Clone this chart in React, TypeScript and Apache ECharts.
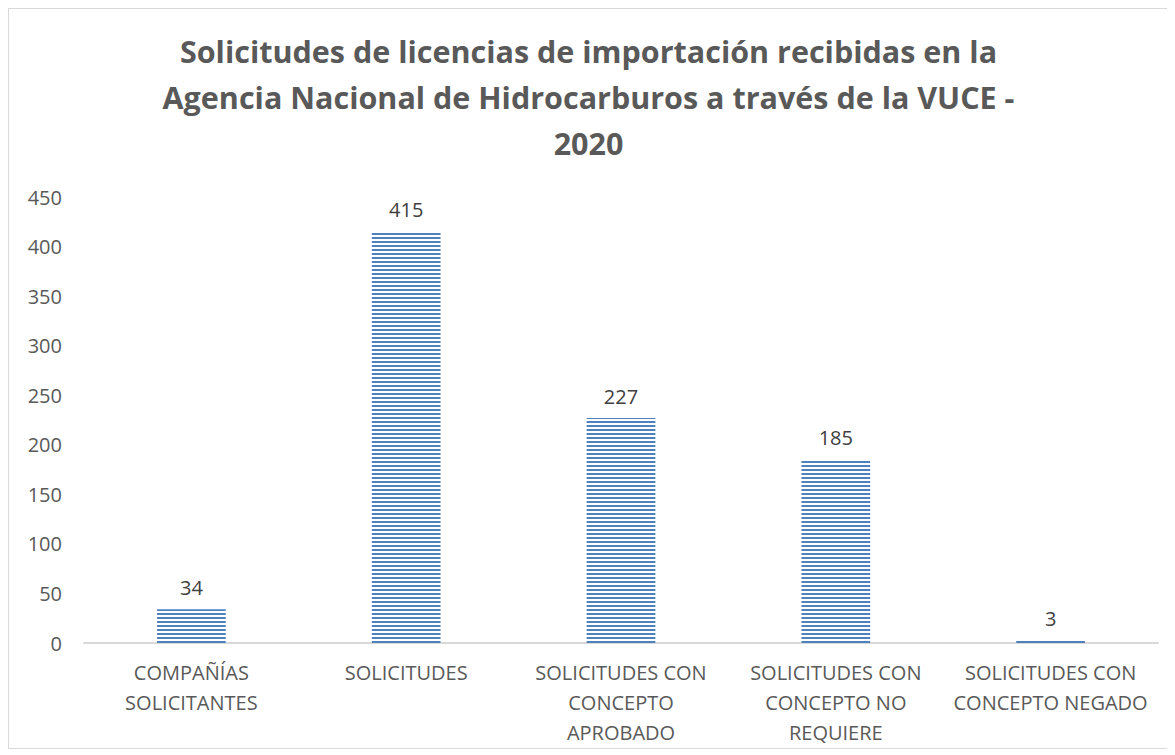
import React, { useEffect, useRef } from "react";
import * as echarts from "echarts";

const categories = [
  "COMPAÑÍAS\nSOLICITANTES",
  "SOLICITUDES",
  "SOLICITUDES CON\nCONCEPTO\nAPROBADO",
  "SOLICITUDES CON\nCONCEPTO NO\nREQUIERE",
  "SOLICITUDES CON\nCONCEPTO NEGADO",
];
const values = [34, 415, 227, 185, 3];
const titleLines = [
  "Solicitudes de licencias de importación recibidas en la",
  "Agencia Nacional de Hidrocarburos a través de la VUCE -",
  "2020",
];

export default function App() {
  const ref = useRef<HTMLDivElement>(null);
  useEffect(() => {
    const chart = echarts.init(ref.current!, null, { renderer: "svg" });
    chart.setOption({
      animation: false,
      title: {
        text: titleLines.join("\n"),
        left: "center",
        top: 14,
        textStyle: {
          fontFamily: "Open Sans",
          fontWeight: "bold",
          fontSize: 30.5,
          lineHeight: 46,
          color: "#595959",
        },
      },
      grid: { left: 75, top: 188, width: 1074, height: 446, containLabel: false },
      xAxis: {
        type: "category",
        data: categories,
        axisTick: { show: false },
        axisLine: { lineStyle: { color: "#d9d9d9", width: 2 } },
        axisLabel: {
          interval: 0,
          fontFamily: "Open Sans",
          fontSize: 20,
          lineHeight: 30,
          color: "#595959",
          margin: 14,
        },
      },
      yAxis: {
        type: "value",
        min: 0,
        max: 450,
        interval: 50,
        splitLine: { show: false },
        axisLine: { show: false },
        axisTick: { show: false },
        axisLabel: {
          fontFamily: "Open Sans",
          fontSize: 20,
          color: "#595959",
          margin: 22,
        },
      },
      series: [
        {
          type: "bar",
          data: values,
          barCategoryGap: "68%",
          itemStyle: {
            color: "#ffffff",
            decal: {
              symbol: "rect",
              symbolSize: 1,
              dashArrayX: [1, 0],
              dashArrayY: [2, 2],
              rotation: 0,
              color: "#4f81bd",
            },
          },
          label: {
            show: true,
            position: "top",
            distance: 12,
            fontFamily: "Open Sans",
            fontSize: 20,
            color: "#404040",
          },
        },
      ],
    });
    return () => chart.dispose();
  }, []);
  return (
    <div style={{ width: 1159, height: 739, border: "1px solid #d9d9d9", boxSizing: "content-box" }}>
      <div ref={ref} style={{ width: 1159, height: 739 }} />
    </div>
  );
}
